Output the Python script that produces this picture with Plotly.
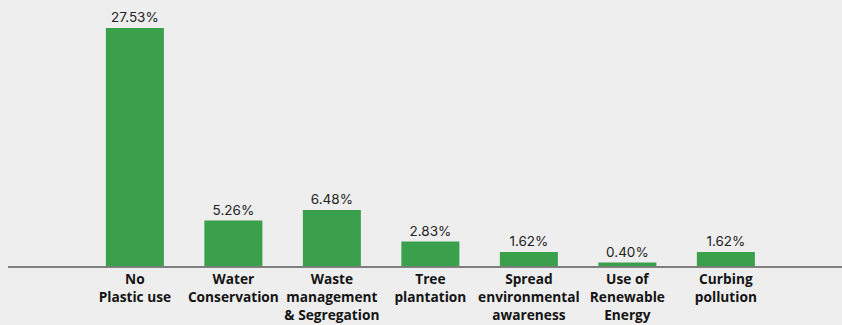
import plotly.graph_objects as go

categories = [
    "No<br>Plastic use",
    "Water<br>Conservation",
    "Waste<br>management<br>& Segregation",
    "Tree<br>plantation",
    "Spread<br>environmental<br>awareness",
    "Use of<br>Renewable<br>Energy",
    "Curbing<br>pollution",
]
values = [27.53, 5.26, 6.48, 2.83, 1.62, 0.40, 1.62]
value_labels = [f"{v:.2f}%" for v in values]

fig = go.Figure(
    go.Bar(
        x=list(range(len(categories))),
        y=values,
        text=value_labels,
        textposition="outside",
        textfont=dict(family="Inter, Lato, sans-serif", size=13.5, color="#222222"),
        marker=dict(color="#3BA04C", line=dict(width=0)),
        width=0.589,
        cliponaxis=False,
    )
)

fig.update_layout(
    width=842,
    height=325,
    margin=dict(l=8, r=0, t=0, b=59),
    paper_bgcolor="#eeeeee",
    plot_bgcolor="#eeeeee",
    showlegend=False,
    xaxis=dict(
        tickmode="array",
        tickvals=list(range(len(categories))),
        ticktext=[f"<b>{c}</b>" for c in categories],
        range=[-1.288, 7.179],
        showline=True,
        linecolor="#7f7f7f",
        linewidth=2,
        showgrid=False,
        zeroline=False,
        ticks="",
        tickangle=0,
        tickfont=dict(family="Open Sans, sans-serif", size=13.7, color="#141414"),
    ),
    yaxis=dict(
        range=[0, 30.77],
        visible=False,
        showgrid=False,
        zeroline=False,
    ),
)

fig.write_html("out.html")
